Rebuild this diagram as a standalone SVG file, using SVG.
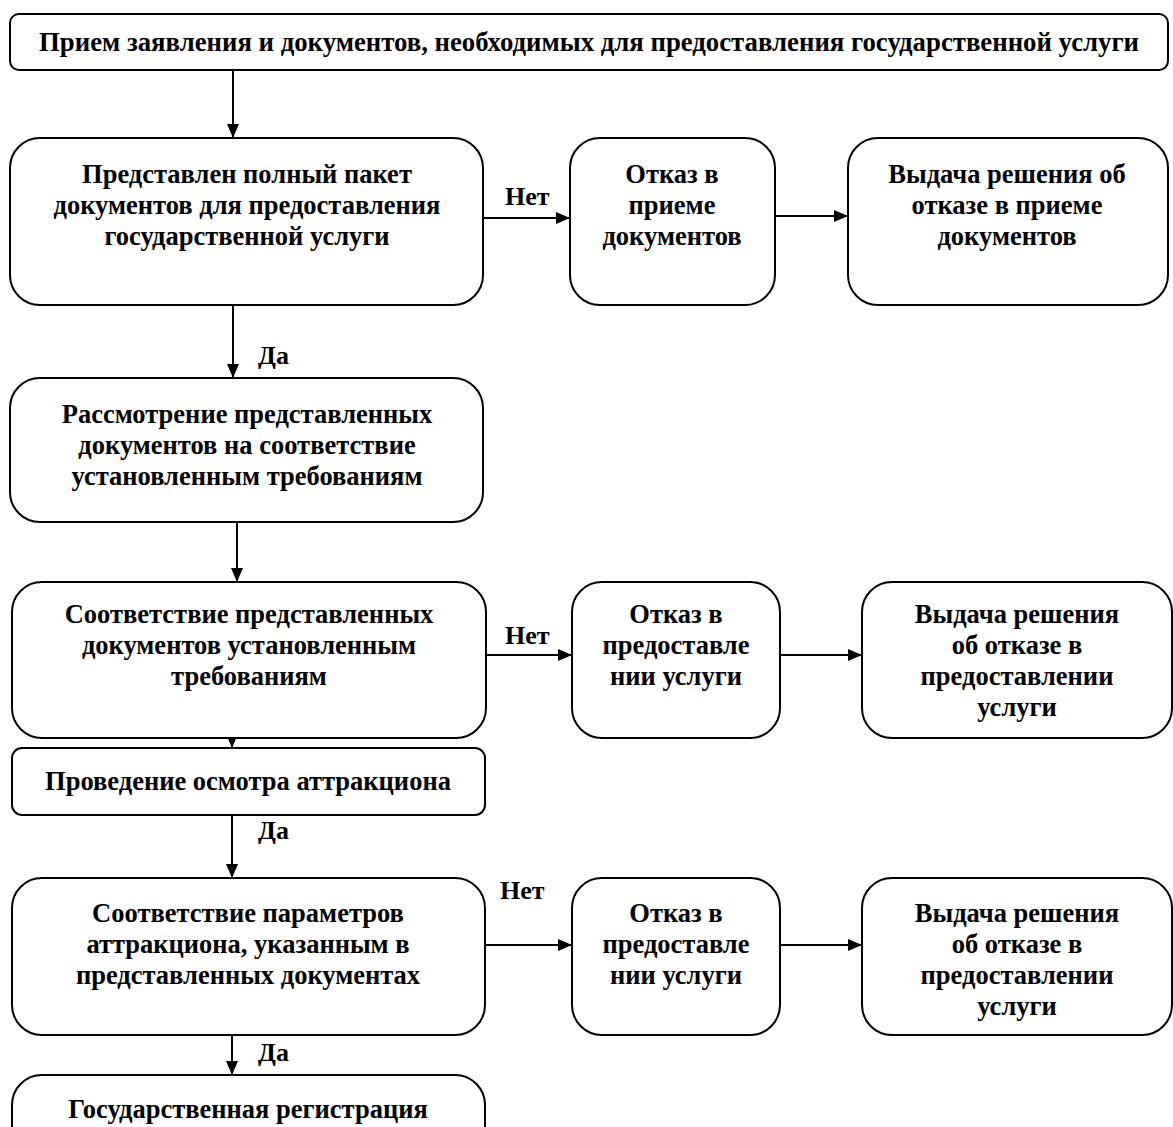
<svg xmlns="http://www.w3.org/2000/svg" width="1173" height="1127" viewBox="0 0 1173 1127">
<style>
.b{fill:#fff;stroke:#000;stroke-width:2}
.t{font-family:"Liberation Serif","Times New Roman",serif;font-weight:bold;font-size:26.5px;fill:#000;text-anchor:middle}
.l{font-family:"Liberation Serif","Times New Roman",serif;font-weight:bold;font-size:26px;fill:#000}
.c{stroke:#000;stroke-width:2;fill:none;marker-end:url(#a)}
</style>
<defs>
<marker id="a" viewBox="0 0 14 12" refX="14" refY="6" markerWidth="14" markerHeight="12" markerUnits="userSpaceOnUse" orient="auto">
<path d="M0,0L14,6L0,12z" fill="#000"/>
</marker>
</defs>
<rect width="1173" height="1127" fill="#fff"/>
<g id="connectors">
<line class="c" x1="233" y1="70" x2="233" y2="138"/>
<line class="c" x1="483" y1="218" x2="570" y2="218"/>
<line class="c" x1="775" y1="216" x2="848" y2="216"/>
<line class="c" x1="233" y1="305" x2="233" y2="378"/>
<line class="c" x1="237" y1="522" x2="237" y2="582"/>
<line class="c" x1="486" y1="655" x2="572" y2="655"/>
<line class="c" x1="780" y1="655" x2="862" y2="655"/>
<line class="c" x1="232" y1="685" x2="232" y2="748"/>
<line class="c" x1="232" y1="815" x2="232" y2="878"/>
<line class="c" x1="485" y1="945" x2="572" y2="945"/>
<line class="c" x1="780" y1="945" x2="862" y2="945"/>
<line class="c" x1="232" y1="1010" x2="232" y2="1075"/>
<text class="l" x="505" y="205">Нет</text>
<text class="l" x="258" y="364">Да</text>
<text class="l" x="505" y="644">Нет</text>
<text class="l" x="258" y="839">Да</text>
<text class="l" x="500" y="899">Нет</text>
<text class="l" x="258" y="1061">Да</text>
</g>
<g id="n1"><rect class="b" x="10" y="14" width="1158" height="56" rx="9"/>
<text class="t" x="589" y="51" textLength="1100" lengthAdjust="spacingAndGlyphs">Прием заявления и документов, необходимых для предоставления государственной услуги</text></g>
<g id="n2"><rect class="b" x="10" y="138" width="473" height="167" rx="30"/>
<text class="t" x="247" y="183">Представлен полный пакет</text>
<text class="t" x="247" y="214">документов для предоставления</text>
<text class="t" x="247" y="245">государственной услуги</text></g>
<g id="n3"><rect class="b" x="570" y="138" width="205" height="167" rx="30"/>
<text class="t" x="672" y="183">Отказ в</text>
<text class="t" x="672" y="214">приеме</text>
<text class="t" x="672" y="245">документов</text></g>
<g id="n4"><rect class="b" x="848" y="138" width="320" height="167" rx="30"/>
<text class="t" x="1007" y="183">Выдача решения об</text>
<text class="t" x="1007" y="214">отказе в приеме</text>
<text class="t" x="1007" y="245">документов</text></g>
<g id="n5"><rect class="b" x="10" y="378" width="473" height="144" rx="30"/>
<text class="t" x="247" y="423">Рассмотрение представленных</text>
<text class="t" x="247" y="454">документов на соответствие</text>
<text class="t" x="247" y="485">установленным требованиям</text></g>
<g id="n6"><rect class="b" x="12" y="582" width="474" height="156" rx="30"/>
<text class="t" x="249" y="623">Соответствие представленных</text>
<text class="t" x="249" y="654">документов установленным</text>
<text class="t" x="249" y="685">требованиям</text></g>
<g id="n7"><rect class="b" x="572" y="582" width="208" height="156" rx="30"/>
<text class="t" x="676" y="623">Отказ в</text>
<text class="t" x="676" y="654">предоставле</text>
<text class="t" x="676" y="685">нии услуги</text></g>
<g id="n8"><rect class="b" x="862" y="582" width="310" height="156" rx="30"/>
<text class="t" x="1017" y="623">Выдача решения</text>
<text class="t" x="1017" y="654">об отказе в</text>
<text class="t" x="1017" y="685">предоставлении</text>
<text class="t" x="1017" y="716">услуги</text></g>
<g id="n9"><rect class="b" x="12" y="748" width="473" height="67" rx="10"/>
<text class="t" x="248" y="790">Проведение осмотра аттракциона</text></g>
<g id="n10"><rect class="b" x="12" y="878" width="473" height="157" rx="30"/>
<text class="t" x="248" y="922">Соответствие параметров</text>
<text class="t" x="248" y="953">аттракциона, указанным в</text>
<text class="t" x="248" y="984">представленных документах</text></g>
<g id="n11"><rect class="b" x="572" y="878" width="208" height="157" rx="30"/>
<text class="t" x="676" y="922">Отказ в</text>
<text class="t" x="676" y="953">предоставле</text>
<text class="t" x="676" y="984">нии услуги</text></g>
<g id="n12"><rect class="b" x="862" y="878" width="310" height="157" rx="30"/>
<text class="t" x="1017" y="922">Выдача решения</text>
<text class="t" x="1017" y="953">об отказе в</text>
<text class="t" x="1017" y="984">предоставлении</text>
<text class="t" x="1017" y="1015">услуги</text></g>
<g id="n13"><rect class="b" x="12" y="1075" width="473" height="100" rx="30"/>
<text class="t" x="248" y="1118">Государственная регистрация</text></g>
</svg>
